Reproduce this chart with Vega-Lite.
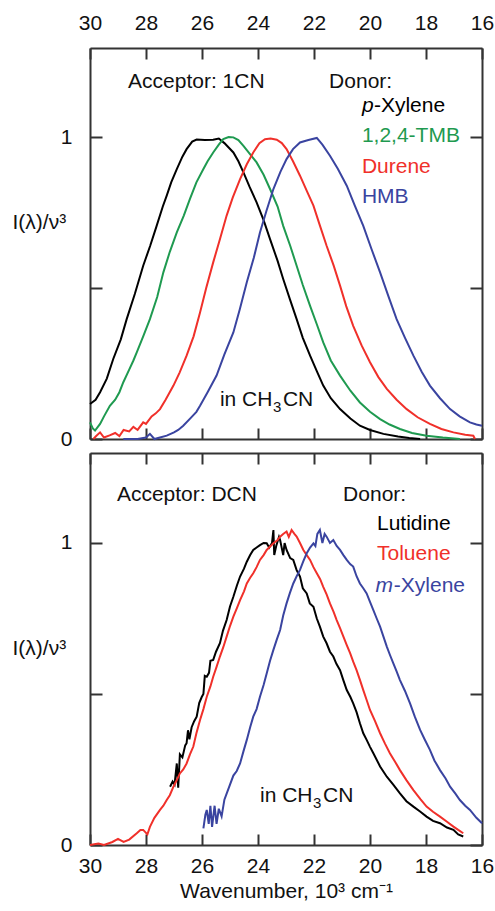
{
  "$schema": "https://vega.github.io/schema/vega-lite/v6.json",
  "padding": {"left": 12, "top": 12, "right": 0, "bottom": 5},
  "spacing": 3,
  "background": "white",
  "config": {
    "view": {"stroke": null},
    "font": "Liberation Sans",
    "axis": {
      "grid": false,
      "domainColor": "#333",
      "domainWidth": 2,
      "tickColor": "#333",
      "tickWidth": 2,
      "tickSize": -11,
      "labelFont": "Liberation Sans",
      "labelFontSize": 21,
      "labelColor": "#111",
      "labelFlush": false,
      "labelOverlap": false,
      "titleFont": "Liberation Sans",
      "titleFontSize": 21,
      "titleFontWeight": "normal",
      "titleColor": "#111"
    },
    "text": {"font": "Liberation Sans", "fontSize": 21, "align": "left", "baseline": "alphabetic", "color": "#111"}
  },
  "datasets": {
    "top": [
      {"donor": "p-Xylene", "wn": 30.0, "I": 0.116}, {"donor": "p-Xylene", "wn": 29.8, "I": 0.13}, {"donor": "p-Xylene", "wn": 29.64, "I": 0.155}, {"donor": "p-Xylene", "wn": 29.4, "I": 0.2}, {"donor": "p-Xylene", "wn": 29.17, "I": 0.265}, {"donor": "p-Xylene", "wn": 28.9, "I": 0.33}, {"donor": "p-Xylene", "wn": 28.69, "I": 0.397}, {"donor": "p-Xylene", "wn": 28.4, "I": 0.48}, {"donor": "p-Xylene", "wn": 28.1, "I": 0.574}, {"donor": "p-Xylene", "wn": 27.85, "I": 0.64}, {"donor": "p-Xylene", "wn": 27.62, "I": 0.706}, {"donor": "p-Xylene", "wn": 27.4, "I": 0.77}, {"donor": "p-Xylene", "wn": 27.26, "I": 0.806}, {"donor": "p-Xylene", "wn": 27.1, "I": 0.85}, {"donor": "p-Xylene", "wn": 26.9, "I": 0.894}, {"donor": "p-Xylene", "wn": 26.7, "I": 0.935}, {"donor": "p-Xylene", "wn": 26.55, "I": 0.96}, {"donor": "p-Xylene", "wn": 26.35, "I": 0.985}, {"donor": "p-Xylene", "wn": 26.19, "I": 0.992}, {"donor": "p-Xylene", "wn": 25.9, "I": 0.99}, {"donor": "p-Xylene", "wn": 25.6, "I": 0.991}, {"donor": "p-Xylene", "wn": 25.4, "I": 0.995}, {"donor": "p-Xylene", "wn": 25.2, "I": 0.98}, {"donor": "p-Xylene", "wn": 24.88, "I": 0.949}, {"donor": "p-Xylene", "wn": 24.7, "I": 0.92}, {"donor": "p-Xylene", "wn": 24.52, "I": 0.883}, {"donor": "p-Xylene", "wn": 24.3, "I": 0.835}, {"donor": "p-Xylene", "wn": 24.05, "I": 0.784}, {"donor": "p-Xylene", "wn": 23.8, "I": 0.725}, {"donor": "p-Xylene", "wn": 23.57, "I": 0.662}, {"donor": "p-Xylene", "wn": 23.3, "I": 0.59}, {"donor": "p-Xylene", "wn": 23.1, "I": 0.53}, {"donor": "p-Xylene", "wn": 22.85, "I": 0.46}, {"donor": "p-Xylene", "wn": 22.62, "I": 0.397}, {"donor": "p-Xylene", "wn": 22.4, "I": 0.335}, {"donor": "p-Xylene", "wn": 22.14, "I": 0.276}, {"donor": "p-Xylene", "wn": 21.9, "I": 0.225}, {"donor": "p-Xylene", "wn": 21.67, "I": 0.177}, {"donor": "p-Xylene", "wn": 21.4, "I": 0.135}, {"donor": "p-Xylene", "wn": 21.07, "I": 0.099}, {"donor": "p-Xylene", "wn": 20.7, "I": 0.068}, {"donor": "p-Xylene", "wn": 20.36, "I": 0.044}, {"donor": "p-Xylene", "wn": 20.0, "I": 0.03}, {"donor": "p-Xylene", "wn": 19.52, "I": 0.017}, {"donor": "p-Xylene", "wn": 19.0, "I": 0.008}, {"donor": "p-Xylene", "wn": 18.6, "I": 0.003}, {"donor": "p-Xylene", "wn": 18.21, "I": 0.0},
      {"donor": "1,2,4-TMB", "wn": 30.0, "I": 0.055}, {"donor": "1,2,4-TMB", "wn": 29.9, "I": 0.035}, {"donor": "1,2,4-TMB", "wn": 29.82, "I": 0.028}, {"donor": "1,2,4-TMB", "wn": 29.72, "I": 0.04}, {"donor": "1,2,4-TMB", "wn": 29.64, "I": 0.05}, {"donor": "1,2,4-TMB", "wn": 29.5, "I": 0.075}, {"donor": "1,2,4-TMB", "wn": 29.29, "I": 0.11}, {"donor": "1,2,4-TMB", "wn": 29.1, "I": 0.13}, {"donor": "1,2,4-TMB", "wn": 28.95, "I": 0.155}, {"donor": "1,2,4-TMB", "wn": 28.81, "I": 0.188}, {"donor": "1,2,4-TMB", "wn": 28.6, "I": 0.23}, {"donor": "1,2,4-TMB", "wn": 28.45, "I": 0.26}, {"donor": "1,2,4-TMB", "wn": 28.33, "I": 0.287}, {"donor": "1,2,4-TMB", "wn": 28.1, "I": 0.34}, {"donor": "1,2,4-TMB", "wn": 27.86, "I": 0.397}, {"donor": "1,2,4-TMB", "wn": 27.6, "I": 0.47}, {"donor": "1,2,4-TMB", "wn": 27.38, "I": 0.552}, {"donor": "1,2,4-TMB", "wn": 27.15, "I": 0.62}, {"donor": "1,2,4-TMB", "wn": 26.9, "I": 0.684}, {"donor": "1,2,4-TMB", "wn": 26.65, "I": 0.74}, {"donor": "1,2,4-TMB", "wn": 26.43, "I": 0.795}, {"donor": "1,2,4-TMB", "wn": 26.2, "I": 0.85}, {"donor": "1,2,4-TMB", "wn": 25.95, "I": 0.894}, {"donor": "1,2,4-TMB", "wn": 25.8, "I": 0.92}, {"donor": "1,2,4-TMB", "wn": 25.6, "I": 0.949}, {"donor": "1,2,4-TMB", "wn": 25.4, "I": 0.975}, {"donor": "1,2,4-TMB", "wn": 25.24, "I": 0.993}, {"donor": "1,2,4-TMB", "wn": 25.05, "I": 1.0}, {"donor": "1,2,4-TMB", "wn": 24.88, "I": 0.999}, {"donor": "1,2,4-TMB", "wn": 24.7, "I": 0.99}, {"donor": "1,2,4-TMB", "wn": 24.52, "I": 0.971}, {"donor": "1,2,4-TMB", "wn": 24.3, "I": 0.945}, {"donor": "1,2,4-TMB", "wn": 24.05, "I": 0.916}, {"donor": "1,2,4-TMB", "wn": 23.8, "I": 0.875}, {"donor": "1,2,4-TMB", "wn": 23.57, "I": 0.828}, {"donor": "1,2,4-TMB", "wn": 23.3, "I": 0.77}, {"donor": "1,2,4-TMB", "wn": 23.1, "I": 0.706}, {"donor": "1,2,4-TMB", "wn": 22.85, "I": 0.64}, {"donor": "1,2,4-TMB", "wn": 22.62, "I": 0.574}, {"donor": "1,2,4-TMB", "wn": 22.4, "I": 0.51}, {"donor": "1,2,4-TMB", "wn": 22.14, "I": 0.441}, {"donor": "1,2,4-TMB", "wn": 21.9, "I": 0.38}, {"donor": "1,2,4-TMB", "wn": 21.67, "I": 0.32}, {"donor": "1,2,4-TMB", "wn": 21.4, "I": 0.26}, {"donor": "1,2,4-TMB", "wn": 21.07, "I": 0.21}, {"donor": "1,2,4-TMB", "wn": 20.7, "I": 0.16}, {"donor": "1,2,4-TMB", "wn": 20.36, "I": 0.121}, {"donor": "1,2,4-TMB", "wn": 20.0, "I": 0.09}, {"donor": "1,2,4-TMB", "wn": 19.64, "I": 0.066}, {"donor": "1,2,4-TMB", "wn": 19.3, "I": 0.048}, {"donor": "1,2,4-TMB", "wn": 18.93, "I": 0.033}, {"donor": "1,2,4-TMB", "wn": 18.5, "I": 0.02}, {"donor": "1,2,4-TMB", "wn": 17.98, "I": 0.011}, {"donor": "1,2,4-TMB", "wn": 17.4, "I": 0.005}, {"donor": "1,2,4-TMB", "wn": 16.79, "I": 0.0},
      {"donor": "Durene", "wn": 29.88, "I": 0.0}, {"donor": "Durene", "wn": 29.78, "I": 0.01}, {"donor": "Durene", "wn": 29.64, "I": 0.022}, {"donor": "Durene", "wn": 29.5, "I": 0.005}, {"donor": "Durene", "wn": 29.3, "I": 0.012}, {"donor": "Durene", "wn": 29.1, "I": 0.02}, {"donor": "Durene", "wn": 28.95, "I": 0.01}, {"donor": "Durene", "wn": 28.8, "I": 0.03}, {"donor": "Durene", "wn": 28.6, "I": 0.025}, {"donor": "Durene", "wn": 28.45, "I": 0.04}, {"donor": "Durene", "wn": 28.3, "I": 0.03}, {"donor": "Durene", "wn": 28.1, "I": 0.055}, {"donor": "Durene", "wn": 28.0, "I": 0.05}, {"donor": "Durene", "wn": 27.8, "I": 0.075}, {"donor": "Durene", "wn": 27.65, "I": 0.085}, {"donor": "Durene", "wn": 27.5, "I": 0.099}, {"donor": "Durene", "wn": 27.3, "I": 0.13}, {"donor": "Durene", "wn": 27.02, "I": 0.177}, {"donor": "Durene", "wn": 26.8, "I": 0.22}, {"donor": "Durene", "wn": 26.55, "I": 0.276}, {"donor": "Durene", "wn": 26.3, "I": 0.34}, {"donor": "Durene", "wn": 26.07, "I": 0.419}, {"donor": "Durene", "wn": 25.85, "I": 0.5}, {"donor": "Durene", "wn": 25.6, "I": 0.585}, {"donor": "Durene", "wn": 25.35, "I": 0.665}, {"donor": "Durene", "wn": 25.12, "I": 0.74}, {"donor": "Durene", "wn": 24.9, "I": 0.8}, {"donor": "Durene", "wn": 24.64, "I": 0.861}, {"donor": "Durene", "wn": 24.4, "I": 0.91}, {"donor": "Durene", "wn": 24.17, "I": 0.949}, {"donor": "Durene", "wn": 23.95, "I": 0.98}, {"donor": "Durene", "wn": 23.75, "I": 0.993}, {"donor": "Durene", "wn": 23.55, "I": 0.995}, {"donor": "Durene", "wn": 23.33, "I": 0.991}, {"donor": "Durene", "wn": 23.15, "I": 0.98}, {"donor": "Durene", "wn": 22.98, "I": 0.96}, {"donor": "Durene", "wn": 22.75, "I": 0.92}, {"donor": "Durene", "wn": 22.5, "I": 0.872}, {"donor": "Durene", "wn": 22.25, "I": 0.82}, {"donor": "Durene", "wn": 22.02, "I": 0.773}, {"donor": "Durene", "wn": 21.8, "I": 0.71}, {"donor": "Durene", "wn": 21.55, "I": 0.64}, {"donor": "Durene", "wn": 21.3, "I": 0.575}, {"donor": "Durene", "wn": 21.07, "I": 0.508}, {"donor": "Durene", "wn": 20.85, "I": 0.44}, {"donor": "Durene", "wn": 20.6, "I": 0.375}, {"donor": "Durene", "wn": 20.3, "I": 0.31}, {"donor": "Durene", "wn": 20.0, "I": 0.254}, {"donor": "Durene", "wn": 19.7, "I": 0.205}, {"donor": "Durene", "wn": 19.4, "I": 0.166}, {"donor": "Durene", "wn": 19.05, "I": 0.13}, {"donor": "Durene", "wn": 18.69, "I": 0.099}, {"donor": "Durene", "wn": 18.3, "I": 0.072}, {"donor": "Durene", "wn": 17.86, "I": 0.05}, {"donor": "Durene", "wn": 17.45, "I": 0.033}, {"donor": "Durene", "wn": 17.02, "I": 0.022}, {"donor": "Durene", "wn": 16.6, "I": 0.014}, {"donor": "Durene", "wn": 16.31, "I": 0.011}, {"donor": "Durene", "wn": 16.25, "I": 0.0},
      {"donor": "HMB", "wn": 28.81, "I": 0.0}, {"donor": "HMB", "wn": 28.3, "I": 0.0}, {"donor": "HMB", "wn": 28.0, "I": 0.005}, {"donor": "HMB", "wn": 27.86, "I": 0.017}, {"donor": "HMB", "wn": 27.7, "I": 0.0}, {"donor": "HMB", "wn": 27.5, "I": 0.005}, {"donor": "HMB", "wn": 27.26, "I": 0.011}, {"donor": "HMB", "wn": 27.0, "I": 0.022}, {"donor": "HMB", "wn": 26.85, "I": 0.03}, {"donor": "HMB", "wn": 26.67, "I": 0.044}, {"donor": "HMB", "wn": 26.4, "I": 0.07}, {"donor": "HMB", "wn": 26.2, "I": 0.09}, {"donor": "HMB", "wn": 26.07, "I": 0.11}, {"donor": "HMB", "wn": 25.8, "I": 0.155}, {"donor": "HMB", "wn": 25.48, "I": 0.21}, {"donor": "HMB", "wn": 25.2, "I": 0.28}, {"donor": "HMB", "wn": 24.88, "I": 0.353}, {"donor": "HMB", "wn": 24.65, "I": 0.43}, {"donor": "HMB", "wn": 24.4, "I": 0.519}, {"donor": "HMB", "wn": 24.15, "I": 0.6}, {"donor": "HMB", "wn": 23.93, "I": 0.684}, {"donor": "HMB", "wn": 23.7, "I": 0.755}, {"donor": "HMB", "wn": 23.45, "I": 0.828}, {"donor": "HMB", "wn": 23.2, "I": 0.885}, {"donor": "HMB", "wn": 22.98, "I": 0.927}, {"donor": "HMB", "wn": 22.75, "I": 0.96}, {"donor": "HMB", "wn": 22.5, "I": 0.982}, {"donor": "HMB", "wn": 22.2, "I": 0.99}, {"donor": "HMB", "wn": 21.9, "I": 0.997}, {"donor": "HMB", "wn": 21.7, "I": 0.975}, {"donor": "HMB", "wn": 21.43, "I": 0.938}, {"donor": "HMB", "wn": 21.15, "I": 0.895}, {"donor": "HMB", "wn": 20.83, "I": 0.839}, {"donor": "HMB", "wn": 20.55, "I": 0.775}, {"donor": "HMB", "wn": 20.24, "I": 0.706}, {"donor": "HMB", "wn": 19.95, "I": 0.63}, {"donor": "HMB", "wn": 19.64, "I": 0.552}, {"donor": "HMB", "wn": 19.35, "I": 0.475}, {"donor": "HMB", "wn": 19.05, "I": 0.397}, {"donor": "HMB", "wn": 18.75, "I": 0.335}, {"donor": "HMB", "wn": 18.45, "I": 0.276}, {"donor": "HMB", "wn": 18.15, "I": 0.222}, {"donor": "HMB", "wn": 17.86, "I": 0.177}, {"donor": "HMB", "wn": 17.5, "I": 0.135}, {"donor": "HMB", "wn": 17.14, "I": 0.099}, {"donor": "HMB", "wn": 16.8, "I": 0.075}, {"donor": "HMB", "wn": 16.43, "I": 0.055}, {"donor": "HMB", "wn": 16.2, "I": 0.048}, {"donor": "HMB", "wn": 16.0, "I": 0.044}
    ],
    "bottom": [
      {"donor": "Lutidine", "wn": 27.14, "I": 0.193}, {"donor": "Lutidine", "wn": 27.05, "I": 0.21}, {"donor": "Lutidine", "wn": 26.98, "I": 0.2}, {"donor": "Lutidine", "wn": 26.9, "I": 0.27}, {"donor": "Lutidine", "wn": 26.85, "I": 0.19}, {"donor": "Lutidine", "wn": 26.79, "I": 0.3}, {"donor": "Lutidine", "wn": 26.7, "I": 0.29}, {"donor": "Lutidine", "wn": 26.6, "I": 0.33}, {"donor": "Lutidine", "wn": 26.55, "I": 0.337}, {"donor": "Lutidine", "wn": 26.5, "I": 0.38}, {"donor": "Lutidine", "wn": 26.45, "I": 0.35}, {"donor": "Lutidine", "wn": 26.37, "I": 0.39}, {"donor": "Lutidine", "wn": 26.28, "I": 0.41}, {"donor": "Lutidine", "wn": 26.19, "I": 0.425}, {"donor": "Lutidine", "wn": 26.1, "I": 0.47}, {"donor": "Lutidine", "wn": 26.01, "I": 0.49}, {"donor": "Lutidine", "wn": 25.95, "I": 0.5}, {"donor": "Lutidine", "wn": 25.9, "I": 0.56}, {"donor": "Lutidine", "wn": 25.83, "I": 0.557}, {"donor": "Lutidine", "wn": 25.75, "I": 0.57}, {"donor": "Lutidine", "wn": 25.7, "I": 0.61}, {"donor": "Lutidine", "wn": 25.6, "I": 0.613}, {"donor": "Lutidine", "wn": 25.5, "I": 0.64}, {"donor": "Lutidine", "wn": 25.36, "I": 0.668}, {"donor": "Lutidine", "wn": 25.25, "I": 0.71}, {"donor": "Lutidine", "wn": 25.12, "I": 0.745}, {"donor": "Lutidine", "wn": 25.0, "I": 0.79}, {"donor": "Lutidine", "wn": 24.88, "I": 0.822}, {"donor": "Lutidine", "wn": 24.75, "I": 0.86}, {"donor": "Lutidine", "wn": 24.64, "I": 0.889}, {"donor": "Lutidine", "wn": 24.5, "I": 0.915}, {"donor": "Lutidine", "wn": 24.4, "I": 0.938}, {"donor": "Lutidine", "wn": 24.28, "I": 0.96}, {"donor": "Lutidine", "wn": 24.17, "I": 0.977}, {"donor": "Lutidine", "wn": 24.05, "I": 0.985}, {"donor": "Lutidine", "wn": 23.93, "I": 0.993}, {"donor": "Lutidine", "wn": 23.8, "I": 1.0}, {"donor": "Lutidine", "wn": 23.69, "I": 0.999}, {"donor": "Lutidine", "wn": 23.6, "I": 0.985}, {"donor": "Lutidine", "wn": 23.5, "I": 1.0}, {"donor": "Lutidine", "wn": 23.45, "I": 1.043}, {"donor": "Lutidine", "wn": 23.42, "I": 0.96}, {"donor": "Lutidine", "wn": 23.35, "I": 0.99}, {"donor": "Lutidine", "wn": 23.25, "I": 1.02}, {"donor": "Lutidine", "wn": 23.21, "I": 1.01}, {"donor": "Lutidine", "wn": 23.1, "I": 0.96}, {"donor": "Lutidine", "wn": 23.05, "I": 1.0}, {"donor": "Lutidine", "wn": 22.98, "I": 0.977}, {"donor": "Lutidine", "wn": 22.85, "I": 0.95}, {"donor": "Lutidine", "wn": 22.74, "I": 0.944}, {"donor": "Lutidine", "wn": 22.62, "I": 0.91}, {"donor": "Lutidine", "wn": 22.5, "I": 0.889}, {"donor": "Lutidine", "wn": 22.4, "I": 0.85}, {"donor": "Lutidine", "wn": 22.26, "I": 0.833}, {"donor": "Lutidine", "wn": 22.15, "I": 0.8}, {"donor": "Lutidine", "wn": 22.02, "I": 0.789}, {"donor": "Lutidine", "wn": 21.9, "I": 0.75}, {"donor": "Lutidine", "wn": 21.79, "I": 0.723}, {"donor": "Lutidine", "wn": 21.67, "I": 0.69}, {"donor": "Lutidine", "wn": 21.55, "I": 0.668}, {"donor": "Lutidine", "wn": 21.43, "I": 0.64}, {"donor": "Lutidine", "wn": 21.31, "I": 0.624}, {"donor": "Lutidine", "wn": 21.2, "I": 0.6}, {"donor": "Lutidine", "wn": 21.07, "I": 0.579}, {"donor": "Lutidine", "wn": 20.95, "I": 0.545}, {"donor": "Lutidine", "wn": 20.83, "I": 0.513}, {"donor": "Lutidine", "wn": 20.7, "I": 0.49}, {"donor": "Lutidine", "wn": 20.6, "I": 0.469}, {"donor": "Lutidine", "wn": 20.48, "I": 0.44}, {"donor": "Lutidine", "wn": 20.36, "I": 0.403}, {"donor": "Lutidine", "wn": 20.24, "I": 0.37}, {"donor": "Lutidine", "wn": 20.12, "I": 0.348}, {"donor": "Lutidine", "wn": 20.0, "I": 0.325}, {"donor": "Lutidine", "wn": 19.88, "I": 0.304}, {"donor": "Lutidine", "wn": 19.64, "I": 0.26}, {"donor": "Lutidine", "wn": 19.4, "I": 0.226}, {"donor": "Lutidine", "wn": 19.17, "I": 0.2}, {"donor": "Lutidine", "wn": 18.93, "I": 0.171}, {"donor": "Lutidine", "wn": 18.7, "I": 0.145}, {"donor": "Lutidine", "wn": 18.45, "I": 0.127}, {"donor": "Lutidine", "wn": 18.2, "I": 0.11}, {"donor": "Lutidine", "wn": 17.98, "I": 0.094}, {"donor": "Lutidine", "wn": 17.75, "I": 0.08}, {"donor": "Lutidine", "wn": 17.5, "I": 0.072}, {"donor": "Lutidine", "wn": 17.25, "I": 0.058}, {"donor": "Lutidine", "wn": 17.02, "I": 0.05}, {"donor": "Lutidine", "wn": 16.85, "I": 0.035}, {"donor": "Lutidine", "wn": 16.67, "I": 0.028},
      {"donor": "Toluene", "wn": 30.0, "I": 0.0}, {"donor": "Toluene", "wn": 29.7, "I": 0.005}, {"donor": "Toluene", "wn": 29.5, "I": 0.0}, {"donor": "Toluene", "wn": 29.2, "I": 0.01}, {"donor": "Toluene", "wn": 29.0, "I": 0.02}, {"donor": "Toluene", "wn": 28.8, "I": 0.01}, {"donor": "Toluene", "wn": 28.6, "I": 0.018}, {"donor": "Toluene", "wn": 28.33, "I": 0.039}, {"donor": "Toluene", "wn": 28.2, "I": 0.05}, {"donor": "Toluene", "wn": 28.1, "I": 0.05}, {"donor": "Toluene", "wn": 27.95, "I": 0.035}, {"donor": "Toluene", "wn": 27.86, "I": 0.06}, {"donor": "Toluene", "wn": 27.7, "I": 0.09}, {"donor": "Toluene", "wn": 27.5, "I": 0.116}, {"donor": "Toluene", "wn": 27.38, "I": 0.13}, {"donor": "Toluene", "wn": 27.26, "I": 0.149}, {"donor": "Toluene", "wn": 27.15, "I": 0.165}, {"donor": "Toluene", "wn": 27.02, "I": 0.193}, {"donor": "Toluene", "wn": 26.9, "I": 0.215}, {"donor": "Toluene", "wn": 26.79, "I": 0.237}, {"donor": "Toluene", "wn": 26.67, "I": 0.25}, {"donor": "Toluene", "wn": 26.55, "I": 0.27}, {"donor": "Toluene", "wn": 26.43, "I": 0.3}, {"donor": "Toluene", "wn": 26.31, "I": 0.326}, {"donor": "Toluene", "wn": 26.2, "I": 0.37}, {"donor": "Toluene", "wn": 26.07, "I": 0.414}, {"donor": "Toluene", "wn": 25.95, "I": 0.45}, {"donor": "Toluene", "wn": 25.83, "I": 0.491}, {"donor": "Toluene", "wn": 25.7, "I": 0.525}, {"donor": "Toluene", "wn": 25.6, "I": 0.557}, {"donor": "Toluene", "wn": 25.48, "I": 0.59}, {"donor": "Toluene", "wn": 25.36, "I": 0.624}, {"donor": "Toluene", "wn": 25.24, "I": 0.655}, {"donor": "Toluene", "wn": 25.12, "I": 0.69}, {"donor": "Toluene", "wn": 25.0, "I": 0.725}, {"donor": "Toluene", "wn": 24.88, "I": 0.756}, {"donor": "Toluene", "wn": 24.75, "I": 0.785}, {"donor": "Toluene", "wn": 24.64, "I": 0.811}, {"donor": "Toluene", "wn": 24.5, "I": 0.84}, {"donor": "Toluene", "wn": 24.4, "I": 0.866}, {"donor": "Toluene", "wn": 24.28, "I": 0.885}, {"donor": "Toluene", "wn": 24.17, "I": 0.9}, {"donor": "Toluene", "wn": 24.05, "I": 0.92}, {"donor": "Toluene", "wn": 23.93, "I": 0.944}, {"donor": "Toluene", "wn": 23.8, "I": 0.96}, {"donor": "Toluene", "wn": 23.69, "I": 0.977}, {"donor": "Toluene", "wn": 23.55, "I": 0.99}, {"donor": "Toluene", "wn": 23.45, "I": 0.999}, {"donor": "Toluene", "wn": 23.3, "I": 1.01}, {"donor": "Toluene", "wn": 23.21, "I": 1.021}, {"donor": "Toluene", "wn": 23.1, "I": 1.03}, {"donor": "Toluene", "wn": 22.98, "I": 1.038}, {"donor": "Toluene", "wn": 22.9, "I": 1.02}, {"donor": "Toluene", "wn": 22.8, "I": 1.043}, {"donor": "Toluene", "wn": 22.7, "I": 1.03}, {"donor": "Toluene", "wn": 22.62, "I": 1.021}, {"donor": "Toluene", "wn": 22.5, "I": 1.0}, {"donor": "Toluene", "wn": 22.38, "I": 0.977}, {"donor": "Toluene", "wn": 22.26, "I": 0.96}, {"donor": "Toluene", "wn": 22.14, "I": 0.944}, {"donor": "Toluene", "wn": 22.02, "I": 0.92}, {"donor": "Toluene", "wn": 21.9, "I": 0.9}, {"donor": "Toluene", "wn": 21.78, "I": 0.88}, {"donor": "Toluene", "wn": 21.67, "I": 0.855}, {"donor": "Toluene", "wn": 21.55, "I": 0.83}, {"donor": "Toluene", "wn": 21.43, "I": 0.8}, {"donor": "Toluene", "wn": 21.3, "I": 0.772}, {"donor": "Toluene", "wn": 21.19, "I": 0.745}, {"donor": "Toluene", "wn": 21.07, "I": 0.718}, {"donor": "Toluene", "wn": 20.95, "I": 0.69}, {"donor": "Toluene", "wn": 20.83, "I": 0.662}, {"donor": "Toluene", "wn": 20.71, "I": 0.635}, {"donor": "Toluene", "wn": 20.6, "I": 0.607}, {"donor": "Toluene", "wn": 20.48, "I": 0.579}, {"donor": "Toluene", "wn": 20.36, "I": 0.547}, {"donor": "Toluene", "wn": 20.24, "I": 0.513}, {"donor": "Toluene", "wn": 20.12, "I": 0.48}, {"donor": "Toluene", "wn": 20.0, "I": 0.447}, {"donor": "Toluene", "wn": 19.82, "I": 0.41}, {"donor": "Toluene", "wn": 19.64, "I": 0.37}, {"donor": "Toluene", "wn": 19.46, "I": 0.335}, {"donor": "Toluene", "wn": 19.29, "I": 0.304}, {"donor": "Toluene", "wn": 19.1, "I": 0.275}, {"donor": "Toluene", "wn": 18.93, "I": 0.248}, {"donor": "Toluene", "wn": 18.7, "I": 0.215}, {"donor": "Toluene", "wn": 18.45, "I": 0.182}, {"donor": "Toluene", "wn": 18.2, "I": 0.152}, {"donor": "Toluene", "wn": 17.98, "I": 0.127}, {"donor": "Toluene", "wn": 17.75, "I": 0.11}, {"donor": "Toluene", "wn": 17.5, "I": 0.094}, {"donor": "Toluene", "wn": 17.25, "I": 0.077}, {"donor": "Toluene", "wn": 17.02, "I": 0.061}, {"donor": "Toluene", "wn": 16.85, "I": 0.05}, {"donor": "Toluene", "wn": 16.67, "I": 0.039},
      {"donor": "m-Xylene", "wn": 25.95, "I": 0.055}, {"donor": "m-Xylene", "wn": 25.88, "I": 0.1}, {"donor": "m-Xylene", "wn": 25.83, "I": 0.116}, {"donor": "m-Xylene", "wn": 25.76, "I": 0.07}, {"donor": "m-Xylene", "wn": 25.7, "I": 0.13}, {"donor": "m-Xylene", "wn": 25.64, "I": 0.06}, {"donor": "m-Xylene", "wn": 25.55, "I": 0.13}, {"donor": "m-Xylene", "wn": 25.48, "I": 0.07}, {"donor": "m-Xylene", "wn": 25.4, "I": 0.12}, {"donor": "m-Xylene", "wn": 25.3, "I": 0.095}, {"donor": "m-Xylene", "wn": 25.2, "I": 0.15}, {"donor": "m-Xylene", "wn": 25.12, "I": 0.17}, {"donor": "m-Xylene", "wn": 25.0, "I": 0.2}, {"donor": "m-Xylene", "wn": 24.88, "I": 0.23}, {"donor": "m-Xylene", "wn": 24.76, "I": 0.245}, {"donor": "m-Xylene", "wn": 24.64, "I": 0.27}, {"donor": "m-Xylene", "wn": 24.52, "I": 0.31}, {"donor": "m-Xylene", "wn": 24.4, "I": 0.348}, {"donor": "m-Xylene", "wn": 24.28, "I": 0.39}, {"donor": "m-Xylene", "wn": 24.17, "I": 0.425}, {"donor": "m-Xylene", "wn": 24.05, "I": 0.45}, {"donor": "m-Xylene", "wn": 23.93, "I": 0.491}, {"donor": "m-Xylene", "wn": 23.8, "I": 0.53}, {"donor": "m-Xylene", "wn": 23.69, "I": 0.568}, {"donor": "m-Xylene", "wn": 23.57, "I": 0.61}, {"donor": "m-Xylene", "wn": 23.45, "I": 0.646}, {"donor": "m-Xylene", "wn": 23.33, "I": 0.68}, {"donor": "m-Xylene", "wn": 23.21, "I": 0.712}, {"donor": "m-Xylene", "wn": 23.1, "I": 0.76}, {"donor": "m-Xylene", "wn": 22.98, "I": 0.8}, {"donor": "m-Xylene", "wn": 22.86, "I": 0.835}, {"donor": "m-Xylene", "wn": 22.74, "I": 0.866}, {"donor": "m-Xylene", "wn": 22.62, "I": 0.89}, {"donor": "m-Xylene", "wn": 22.5, "I": 0.911}, {"donor": "m-Xylene", "wn": 22.38, "I": 0.94}, {"donor": "m-Xylene", "wn": 22.26, "I": 0.966}, {"donor": "m-Xylene", "wn": 22.14, "I": 0.985}, {"donor": "m-Xylene", "wn": 22.02, "I": 0.999}, {"donor": "m-Xylene", "wn": 21.95, "I": 0.99}, {"donor": "m-Xylene", "wn": 21.88, "I": 1.03}, {"donor": "m-Xylene", "wn": 21.79, "I": 1.043}, {"donor": "m-Xylene", "wn": 21.7, "I": 1.0}, {"donor": "m-Xylene", "wn": 21.62, "I": 1.03}, {"donor": "m-Xylene", "wn": 21.55, "I": 1.021}, {"donor": "m-Xylene", "wn": 21.43, "I": 1.0}, {"donor": "m-Xylene", "wn": 21.31, "I": 1.01}, {"donor": "m-Xylene", "wn": 21.19, "I": 0.99}, {"donor": "m-Xylene", "wn": 21.07, "I": 0.977}, {"donor": "m-Xylene", "wn": 20.95, "I": 0.96}, {"donor": "m-Xylene", "wn": 20.83, "I": 0.944}, {"donor": "m-Xylene", "wn": 20.71, "I": 0.93}, {"donor": "m-Xylene", "wn": 20.6, "I": 0.922}, {"donor": "m-Xylene", "wn": 20.48, "I": 0.89}, {"donor": "m-Xylene", "wn": 20.36, "I": 0.866}, {"donor": "m-Xylene", "wn": 20.24, "I": 0.85}, {"donor": "m-Xylene", "wn": 20.12, "I": 0.833}, {"donor": "m-Xylene", "wn": 20.0, "I": 0.805}, {"donor": "m-Xylene", "wn": 19.88, "I": 0.778}, {"donor": "m-Xylene", "wn": 19.76, "I": 0.75}, {"donor": "m-Xylene", "wn": 19.64, "I": 0.723}, {"donor": "m-Xylene", "wn": 19.52, "I": 0.69}, {"donor": "m-Xylene", "wn": 19.4, "I": 0.657}, {"donor": "m-Xylene", "wn": 19.29, "I": 0.63}, {"donor": "m-Xylene", "wn": 19.17, "I": 0.602}, {"donor": "m-Xylene", "wn": 19.05, "I": 0.575}, {"donor": "m-Xylene", "wn": 18.93, "I": 0.546}, {"donor": "m-Xylene", "wn": 18.75, "I": 0.51}, {"donor": "m-Xylene", "wn": 18.57, "I": 0.469}, {"donor": "m-Xylene", "wn": 18.4, "I": 0.425}, {"donor": "m-Xylene", "wn": 18.21, "I": 0.381}, {"donor": "m-Xylene", "wn": 18.05, "I": 0.35}, {"donor": "m-Xylene", "wn": 17.86, "I": 0.315}, {"donor": "m-Xylene", "wn": 17.7, "I": 0.28}, {"donor": "m-Xylene", "wn": 17.5, "I": 0.248}, {"donor": "m-Xylene", "wn": 17.3, "I": 0.22}, {"donor": "m-Xylene", "wn": 17.14, "I": 0.193}, {"donor": "m-Xylene", "wn": 16.95, "I": 0.17}, {"donor": "m-Xylene", "wn": 16.79, "I": 0.149}, {"donor": "m-Xylene", "wn": 16.6, "I": 0.13}, {"donor": "m-Xylene", "wn": 16.43, "I": 0.116}, {"donor": "m-Xylene", "wn": 16.2, "I": 0.09}, {"donor": "m-Xylene", "wn": 16.0, "I": 0.072}
    ],
    "notes": [
      {"panel": "top", "kind": "plain", "text": "Acceptor: 1CN", "wn": 28.64, "I": 1.162},
      {"panel": "top", "kind": "plain", "text": "Donor:", "wn": 21.46, "I": 1.162},
      {"panel": "top", "kind": "italic", "donor": "p-Xylene", "text": "p", "wn": 20.29, "I": 1.083},
      {"panel": "top", "kind": "donor", "donor": "p-Xylene", "text": "-Xylene", "wn": 19.86, "I": 1.083},
      {"panel": "top", "kind": "donor", "donor": "1,2,4-TMB", "text": "1,2,4-TMB", "wn": 20.29, "I": 0.983},
      {"panel": "top", "kind": "donor", "donor": "Durene", "text": "Durene", "wn": 20.29, "I": 0.881},
      {"panel": "top", "kind": "donor", "donor": "HMB", "text": "HMB", "wn": 20.29, "I": 0.781},
      {"panel": "top", "kind": "solvent", "text": "in CH", "sub": "3", "tail": "CN", "wn": 25.36, "I": 0.109},
      {"panel": "bottom", "kind": "plain", "text": "Acceptor: DCN", "wn": 29.04, "I": 1.139},
      {"panel": "bottom", "kind": "plain", "text": "Donor:", "wn": 20.96, "I": 1.139},
      {"panel": "bottom", "kind": "donor", "donor": "Lutidine", "text": "Lutidine", "wn": 19.75, "I": 1.043},
      {"panel": "bottom", "kind": "donor", "donor": "Toluene", "text": "Toluene", "wn": 19.75, "I": 0.944},
      {"panel": "bottom", "kind": "italic", "donor": "m-Xylene", "text": "m", "wn": 19.8, "I": 0.838},
      {"panel": "bottom", "kind": "donor", "donor": "m-Xylene", "text": "-Xylene", "wn": 19.15, "I": 0.838},
      {"panel": "bottom", "kind": "solvent", "text": "in CH", "sub": "3", "tail": "CN", "wn": 23.93, "I": 0.142}
    ]
  },
  "vconcat": [
    {
      "width": 392,
      "height": 391,
      "encoding": {
        "x": {"field": "wn", "type": "quantitative", "scale": {"domain": [30, 16], "nice": false, "zero": false}, "axis": null},
        "y": {"field": "I", "type": "quantitative", "scale": {"domain": [0, 1.295], "nice": false}, "axis": null}
      },
      "layer": [
        {
          "data": {"name": "top"},
          "mark": {"type": "line", "strokeWidth": 2},
          "encoding": {
            "x": {"field": "wn", "type": "quantitative", "scale": {"domain": [30, 16], "nice": false, "zero": false},
              "axis": {"orient": "top", "values": [30, 28, 26, 24, 22, 20, 18, 16], "title": null, "labelPadding": 26}},
            "y": {"field": "I", "type": "quantitative", "scale": {"domain": [0, 1.295], "nice": false},
              "axis": {"orient": "left", "values": [0, 0.5, 1], "labelExpr": "datum.value == 0.5 ? '' : '' + datum.value", "tickSize": -12, "labelPadding": 30,
                "title": "I(λ)/ν³", "titleAngle": 0, "titleAlign": "left", "titleBaseline": "alphabetic", "titleX": -78, "titleY": 180}},
            "color": {"field": "donor", "type": "nominal", "legend": null,
              "scale": {"domain": ["p-Xylene", "1,2,4-TMB", "Durene", "HMB", "Lutidine", "Toluene", "m-Xylene"], "range": ["#000000", "#1f9a50", "#f0302a", "#3a44a0", "#000000", "#f0302a", "#3a44a0"]}}
          }
        },
        {
          "data": {"name": "notes"},
          "transform": [{"filter": "datum.panel == 'top' && (datum.kind == 'plain' || datum.kind == 'solvent')"}],
          "mark": {"type": "text"},
          "encoding": {
            "x": {"field": "wn", "type": "quantitative", "scale": {"domain": [30, 16], "nice": false, "zero": false},
              "axis": {"orient": "bottom", "values": [30, 28, 26, 24, 22, 20, 18, 16], "labels": false, "title": null}},
            "y": {"field": "I", "type": "quantitative", "scale": {"domain": [0, 1.295], "nice": false},
              "axis": {"orient": "right", "values": [0, 0.5, 1], "labels": false, "title": null, "tickSize": -12}},
            "text": {"field": "text"}
          }
        },
        {
          "data": {"name": "notes"},
          "transform": [{"filter": "datum.panel == 'top' && datum.kind == 'donor'"}],
          "mark": {"type": "text"},
          "encoding": {
            "text": {"field": "text"},
            "color": {"field": "donor", "type": "nominal", "legend": null}
          }
        },
        {
          "data": {"name": "notes"},
          "transform": [{"filter": "datum.panel == 'top' && datum.kind == 'italic'"}],
          "mark": {"type": "text", "fontStyle": "italic"},
          "encoding": {
            "text": {"field": "text"},
            "color": {"field": "donor", "type": "nominal", "legend": null}
          }
        },
        {
          "data": {"name": "notes"},
          "transform": [{"filter": "datum.panel == 'top' && datum.kind == 'solvent'"}],
          "mark": {"type": "text", "dx": 53, "dy": 6, "fontSize": 15},
          "encoding": {"text": {"field": "sub"}}
        },
        {
          "data": {"name": "notes"},
          "transform": [{"filter": "datum.panel == 'top' && datum.kind == 'solvent'"}],
          "mark": {"type": "text", "dx": 63},
          "encoding": {"text": {"field": "tail"}}
        }
      ],
      "resolve": {"axis": {"x": "independent", "y": "independent"}}
    },
    {
      "width": 392,
      "height": 392,
      "encoding": {
        "x": {"field": "wn", "type": "quantitative", "scale": {"domain": [30, 16], "nice": false, "zero": false}, "axis": null},
        "y": {"field": "I", "type": "quantitative", "scale": {"domain": [0, 1.298], "nice": false}, "axis": null}
      },
      "layer": [
        {
          "data": {"name": "bottom"},
          "mark": {"type": "line", "strokeWidth": 2},
          "encoding": {
            "x": {"field": "wn", "type": "quantitative", "scale": {"domain": [30, 16], "nice": false, "zero": false},
              "axis": {"orient": "bottom", "values": [30, 28, 26, 24, 22, 20, 18, 16], "labelPadding": 21,
                "title": "Wavenumber, 10³ cm⁻¹", "titleBaseline": "alphabetic", "titleY": 52}},
            "y": {"field": "I", "type": "quantitative", "scale": {"domain": [0, 1.298], "nice": false},
              "axis": {"orient": "left", "values": [0, 0.5, 1], "labelExpr": "datum.value == 0.5 ? '' : '' + datum.value", "tickSize": -12, "labelPadding": 30,
                "title": "I(λ)/ν³", "titleAngle": 0, "titleAlign": "left", "titleBaseline": "alphabetic", "titleX": -78, "titleY": 201}},
            "color": {"field": "donor", "type": "nominal", "legend": null,
              "scale": {"domain": ["p-Xylene", "1,2,4-TMB", "Durene", "HMB", "Lutidine", "Toluene", "m-Xylene"], "range": ["#000000", "#1f9a50", "#f0302a", "#3a44a0", "#000000", "#f0302a", "#3a44a0"]}}
          }
        },
        {
          "data": {"name": "notes"},
          "transform": [{"filter": "datum.panel == 'bottom' && (datum.kind == 'plain' || datum.kind == 'solvent')"}],
          "mark": {"type": "text"},
          "encoding": {
            "x": {"field": "wn", "type": "quantitative", "scale": {"domain": [30, 16], "nice": false, "zero": false},
              "axis": {"orient": "top", "values": [30, 28, 26, 24, 22, 20, 18, 16], "labels": false, "title": null}},
            "y": {"field": "I", "type": "quantitative", "scale": {"domain": [0, 1.298], "nice": false},
              "axis": {"orient": "right", "values": [0, 0.5, 1], "labels": false, "title": null, "tickSize": -12}},
            "text": {"field": "text"}
          }
        },
        {
          "data": {"name": "notes"},
          "transform": [{"filter": "datum.panel == 'bottom' && datum.kind == 'donor'"}],
          "mark": {"type": "text"},
          "encoding": {
            "text": {"field": "text"},
            "color": {"field": "donor", "type": "nominal", "legend": null}
          }
        },
        {
          "data": {"name": "notes"},
          "transform": [{"filter": "datum.panel == 'bottom' && datum.kind == 'italic'"}],
          "mark": {"type": "text", "fontStyle": "italic"},
          "encoding": {
            "text": {"field": "text"},
            "color": {"field": "donor", "type": "nominal", "legend": null}
          }
        },
        {
          "data": {"name": "notes"},
          "transform": [{"filter": "datum.panel == 'bottom' && datum.kind == 'solvent'"}],
          "mark": {"type": "text", "dx": 53, "dy": 6, "fontSize": 15},
          "encoding": {"text": {"field": "sub"}}
        },
        {
          "data": {"name": "notes"},
          "transform": [{"filter": "datum.panel == 'bottom' && datum.kind == 'solvent'"}],
          "mark": {"type": "text", "dx": 63},
          "encoding": {"text": {"field": "tail"}}
        }
      ],
      "resolve": {"axis": {"x": "independent", "y": "independent"}}
    }
  ]
}
